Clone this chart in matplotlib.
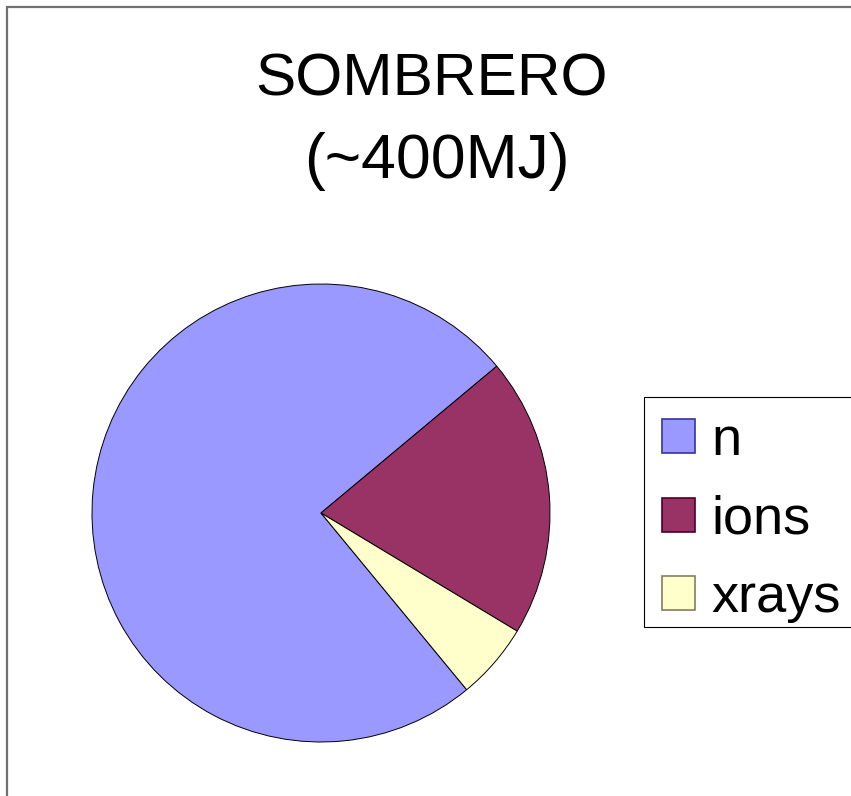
import matplotlib.pyplot as plt
from matplotlib.patches import Patch, Rectangle

# data (share of yield)
labels = ["n", "ions", "xrays"]
values = [74.9, 19.7, 5.4]
colors = ["#9999FF", "#993366", "#FFFFCC"]
edge_colors = ["#333399", "#4d0026", "#808060"]
title_lines = ["SOMBRERO", "(~400MJ)"]

plt.rcParams['font.family'] = ['Liberation Sans', 'DejaVu Sans']

W, H = 851, 796
fig = plt.figure(figsize=(W / 100, H / 100), dpi=100)

# outer chart border (only top/left visible in the crop)
fig.patches.append(Rectangle((7 / W, -0.1), 1.2, 1 - 7 / H + 0.1, transform=fig.transFigure,
                             fill=False, edgecolor="#707070", linewidth=1.6))

# pie: centre (321, 513) px, radius 229 px
cx, cy, r = 321, 513, 229
ax = fig.add_axes([(cx - r) / W, (H - cy - r) / H, 2 * r / W, 2 * r / H])
ax.pie(values, colors=colors, startangle=-50.5, counterclock=False, radius=1,
       wedgeprops=dict(edgecolor="black", linewidth=0.7))
ax.set_xlim(-1, 1)
ax.set_ylim(-1, 1)
ax.set_aspect('equal')
ax.axis('off')

# title, two lines
fig.text(432 / W, 1 - 95 / H, title_lines[0], ha='center', va='baseline', fontsize=43.5)
fig.text(437 / W, 1 - 178 / H, title_lines[1], ha='center', va='baseline', fontsize=45)

# legend frame drawn separately (runs off the right edge)
fig.patches.append(Rectangle((644 / W, 1 - 627 / H), 0.5, 230 / H, transform=fig.transFigure,
                             facecolor="white", edgecolor="black", linewidth=0.8))

handles = [Patch(facecolor=c, edgecolor=e, linewidth=1.2) for c, e in zip(colors, edge_colors)]
leg = fig.legend(handles, labels, loc='upper left', bbox_to_anchor=(662 / W, 1 - 416 / H),
                 fontsize=39, frameon=False, borderaxespad=0, borderpad=0,
                 handlelength=0.61, handleheight=0.59, handletextpad=0.31,
                 labelspacing=0.53)

fig.savefig("out.png", dpi=100)
